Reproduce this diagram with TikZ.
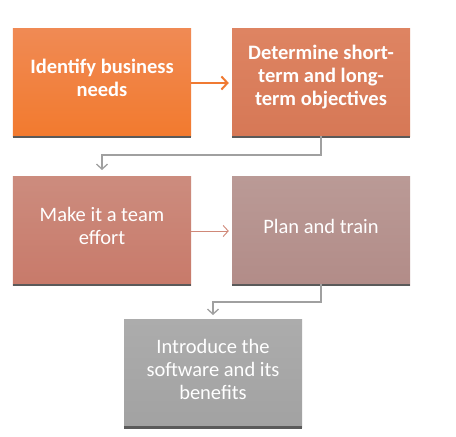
\documentclass[tikz,border=0pt]{standalone}
\usepackage{fontspec}
\setmainfont{Carlito}
\usetikzlibrary{arrows.meta}
\definecolor{o1t}{RGB}{240,138,84}\definecolor{o1b}{RGB}{242,122,46}
\definecolor{o2t}{RGB}{222,132,98}\definecolor{o2b}{RGB}{214,120,86}
\definecolor{o3t}{RGB}{204,140,126}\definecolor{o3b}{RGB}{200,122,106}
\definecolor{o4t}{RGB}{186,154,150}\definecolor{o4b}{RGB}{178,140,136}
\definecolor{o5t}{RGB}{172,172,172}\definecolor{o5b}{RGB}{162,162,162}
\definecolor{shad}{RGB}{90,90,90}
\definecolor{conn}{RGB}{160,160,160}
\definecolor{arrO}{RGB}{240,122,50}
\definecolor{arrS}{RGB}{208,136,120}
\tikzset{
  box/.style={minimum width=178bp, minimum height=108bp, inner sep=0pt, draw=none},
  boxtext/.style={text=white, align=center, font=\fontsize{20.5bp}{23bp}\selectfont},
  boldtext/.style={boxtext, font=\fontsize{20.5bp}{23bp}\selectfont\bfseries},
  shadowline/.style={draw=shad, line width=2.5bp},
  gconn/.style={draw=conn, line width=1.3bp, -{Straight Barb[length=5bp,width=11bp]}},
}
\begin{document}
\begin{tikzpicture}[x=1bp,y=-1bp]
\useasboundingbox (0,0) rectangle (456,437);
\fill[white] (0,0) rectangle (456,437);
% boxes
\node[box, top color=o1t, bottom color=o1b] (b1) at (102,83) {};
\node[box, top color=o2t, bottom color=o2b] (b2) at (321,83) {};
\node[box, top color=o3t, bottom color=o3b] (b3) at (102,231) {};
\node[box, top color=o4t, bottom color=o4b] (b4) at (321,231) {};
\node[box, top color=o5t, bottom color=o5b] (b5) at (213,373.5) {};
% shadows
\foreach \b in {b1,b2,b3,b4,b5}{
  \draw[shadowline] (\b.south west) -- (\b.south east);
}
% texts
\node[boldtext] (t1) at ([yshift=5bp]b1.center) {Identify business\\needs};
\node[boldtext] (t2) at ([yshift=6bp]b2.center) {Determine short-\\term and long-\\term objectives};
\node[boxtext] (t3) at ([yshift=5bp]b3.center) {Make it a team\\effort};
\node[boxtext] (t4) at ([yshift=5bp]b4.center) {Plan and train};
\node[boxtext] (t5) at ([yshift=4.5bp]b5.center) {Introduce the\\software and its\\benefits};
% connectors
\coordinate (c1) at (102,170);
\coordinate (c2) at (213,315);
\draw[draw=arrO, line width=2bp, -{Straight Barb[length=6bp,width=13bp]}] (b1.east) -- ([xshift=-3bp]b2.west);
\draw[draw=arrS, line width=0.9bp, -{Straight Barb[length=5bp,width=11bp]}] (b3.east) -- ([xshift=-3bp]b4.west);
\draw[gconn] ([yshift=1.3bp]b2.south) -- (b2.south |- 0,155) -- (c1 |- 0,155) -- (c1);
\draw[gconn] ([yshift=1.3bp]b4.south) -- (b4.south |- 0,302) -- (c2 |- 0,302) -- (c2);
\end{tikzpicture}
\end{document}
